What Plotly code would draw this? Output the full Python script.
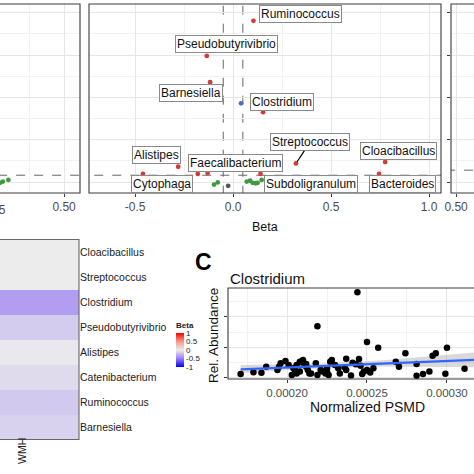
import plotly.graph_objects as go

W = H = 474
def PX(x): return x / W
def PY(y): return 1 - y / H

FONT = "Liberation Sans, Arial, Helvetica, sans-serif"
RED, GREEN, BLUE, GREY = "#d63a36", "#3f9a3f", "#4a6fc4", "#555555"
GRID, MINOR, BORDER = "#e6e6e6", "#f2f2f2", "#3a3a3a"

# ---------------- volcano (middle facet) ----------------
mid_beta  = [0.104, -0.134, -0.117, 0.153, 0.321, -0.280, -0.460, -0.130, -0.180, 0.140, 0.776, 0.745,
             0.041,
             -0.097, -0.078, 0.070, 0.087, 0.100, 0.115, 0.125, 0.146,
             -0.025]
mid_logp  = [38.1, 29.8, 23.6, 16.5, 4.4, 3.6, 1.9, 2.1, 1.9, 1.9, 4.7, 1.9,
             18.6,
             -0.6, -0.1, 0.1, 0.3, -0.2, -0.3, -0.2, 0.5,
             -0.9]
mid_group = ["sig"] * 12 + ["neg"] + ["ns"] * 8 + ["none"]
group_color = {"sig": RED, "neg": BLUE, "ns": GREEN, "none": GREY}

# labels: genus, point beta, point value, label offset (px)
lab_genus = ["Ruminococcus", "Pseudobutyrivibrio", "Barnesiella", "Clostridium", "Streptococcus",
             "Alistipes", "Faecalibacterium", "Cytophaga", "Subdoligranulum", "Cloacibacillus", "Bacteroides"]
lab_beta  = [0.104, -0.134, -0.117, 0.041, 0.321, -0.280, -0.130, -0.025, 0.146, 0.776, 0.745]
lab_val   = [38.1, 29.8, 23.6, 18.6, 4.4, 3.6, 2.1, -0.9, 0.5, 4.7, 1.9]
lab_dx    = [47, 20, -19, 41, 14, -22, 28, -66, 49, 13, 23]
lab_dy    = [-7, -12, 11, -1, -21, -12, -10, -2, 4, -11, 10]
lab_seg   = [False, False, False, False, True, False, False, False, False, False, False]

# left facet (partially visible)
left_beta = [0.271, 0.281, 0.301]
left_logp = [-0.2, 0.1, 0.5]

mid_thresh, left_thresh, right_thresh = 1.6, 1.6, 2.8
beta_cut = [-0.05, 0.05]

# ---------------- heatmap ----------------
heat_genus = ["Cloacibacillus", "Streptococcus", "Clostridium", "Pseudobutyrivibrio",
              "Alistipes", "Catenibacterium", "Ruminococcus", "Barnesiella"]
heat_beta  = [0.0, 0.0, -0.36, -0.15, -0.02, -0.08, -0.16, -0.12]

# ---------------- panel C scatter ----------------
psmd = [0.000171, 0.000179, 0.000184, 0.000187, 0.000194, 0.000195, 0.000196, 0.000199, 0.000201,
        0.000204, 0.000206, 0.000208, 0.000210, 0.000212, 0.000213, 0.000215, 0.000221, 0.000225,
        0.000208, 0.000210, 0.000205, 0.000206, 0.000212, 0.000214, 0.000219, 0.000222, 0.000224,
        0.000225, 0.000227, 0.000228, 0.000230, 0.000232, 0.000226,
        0.000219, 0.000244, 0.000250, 0.000257, 0.000274, 0.000291, 0.000293, 0.000300, 0.000237,
        0.000245, 0.000268, 0.000270, 0.000281, 0.000281, 0.000285, 0.000289, 0.000299, 0.000311,
        0.000254, 0.000240, 0.000237, 0.000248, 0.000250,
        0.000243, 0.000246, 0.000241, 0.000233, 0.000236, 0.000218, 0.000203, 0.000247, 0.000252]
abund = [0.0013, 0.0019, 0.0017, 0.0037, 0.0026, 0.0037, 0.0048, 0.0056, 0.0043,
         0.0032, 0.0043, 0.0021, 0.0050, 0.0046, 0.0026, 0.0015, 0.0026, 0.0021,
         0.0053, 0.0059, 0.0026, 0.0015, 0.0037, 0.0015, 0.0010, 0.0021, 0.0015,
         0.0032, 0.0053, 0.0059, 0.0043, 0.0032, 0.0010,
         0.0170, 0.0281, 0.0118, 0.0099, 0.0081, 0.0073, 0.0081, 0.0099, 0.0063,
         0.0062, 0.0053, 0.0037, 0.0046, 0.0007, 0.0013, 0.0021, 0.0014, 0.0030,
         0.0032, 0.0008, 0.0026, 0.0021, 0.0026,
         0.0045, 0.0040, 0.0050, 0.0015, 0.0035, 0.0048, 0.0010, 0.0013, 0.0018]
fit_x     = [0.000171, 0.000220, 0.000260, 0.000317, 0.000330]
fit_y     = [0.00285, 0.00390, 0.00475, 0.00590, 0.00620]
fit_lower = [0.00160, 0.00320, 0.00380, 0.00360, 0.00350]
fit_upper = [0.00430, 0.00470, 0.00580, 0.00820, 0.00890]

fig = go.Figure()

# volcano traces
for g in ["none", "ns", "neg", "sig"]:
    xs = [b for b, gg in zip(mid_beta, mid_group) if gg == g]
    ys = [v for v, gg in zip(mid_logp, mid_group) if gg == g]
    fig.add_trace(go.Scatter(x=xs, y=ys, mode="markers", xaxis="x2", yaxis="y2",
                             marker=dict(size=4.8, color=group_color[g]), showlegend=False))
fig.add_trace(go.Scatter(x=left_beta, y=left_logp, mode="markers", xaxis="x", yaxis="y",
                         marker=dict(size=4.8, color=GREEN), showlegend=False))
fig.add_trace(go.Scatter(x=[None], y=[None], mode="markers", xaxis="x3", yaxis="y3", showlegend=False))

# heatmap
colorscale = [[0, "#0000ff"], [0.25, "#9b80f3"], [0.5, "#ececec"], [0.75, "#f59a8a"], [1, "#ff0000"]]
fig.add_trace(go.Heatmap(
    x=["WMH"], y=heat_genus[::-1], z=[[v] for v in heat_beta[::-1]],
    xaxis="x4", yaxis="y4", zmin=-1, zmax=1, colorscale=colorscale,
    colorbar=dict(x=PX(176), xanchor="left", y=PY(343), yanchor="middle",
                  len=48, lenmode="pixels", thickness=8, thicknessmode="pixels",
                  xpad=0, ypad=0, outlinewidth=0, ticks="",
                  tickvals=[-1, -0.5, 0, 0.5, 1], ticktext=["-1", "-0.5", "0", "0.5", "1"],
                  tickfont=dict(size=8, family=FONT, color="#222"),
                  title=dict(text="<b>Beta</b>", side="top", font=dict(size=8, family=FONT, color="#222")))))

# panel C
fig.add_trace(go.Scatter(x=fit_x + fit_x[::-1], y=fit_upper + fit_lower[::-1], fill="toself",
                         fillcolor="rgba(160,160,160,0.4)", line=dict(width=0), mode="lines",
                         xaxis="x5", yaxis="y5", showlegend=False, hoverinfo="skip"))
fig.add_trace(go.Scatter(x=psmd, y=abund, mode="markers", xaxis="x5", yaxis="y5",
                         marker=dict(size=6.5, color="black"), showlegend=False))
fig.add_trace(go.Scatter(x=fit_x, y=fit_y, mode="lines", xaxis="x5", yaxis="y5",
                         line=dict(color="#3366ff", width=2.2), showlegend=False))

top_dom = [PY(193), PY(4)]
yrange_top = [-2.6, 42.08]
tickfont = dict(size=12, family=FONT, color="#4d4d4d")

def yax_top(anchor, ticks):
    return dict(domain=top_dom, range=yrange_top, anchor=anchor, showticklabels=False,
                ticks="outside" if ticks else "", ticklen=3, tickcolor=BORDER,
                tickvals=[0, 10, 20, 30, 40], showgrid=True, gridcolor=GRID, gridwidth=1,
                minor=dict(tickvals=[5, 15, 25, 35], showgrid=True, gridcolor=MINOR, gridwidth=0.7, ticks=""),
                zeroline=False, showline=False)

fig.update_layout(
    width=W, height=H, margin=dict(l=0, r=0, t=0, b=0, autoexpand=False),
    paper_bgcolor="white", plot_bgcolor="white", font=dict(family=FONT),
    xaxis=dict(domain=[0, PX(80)], range=[0.271, 0.557], anchor="y", tickvals=[0.5], ticktext=["0.50"],
               ticks="outside", ticklen=3, tickcolor=BORDER, tickfont=tickfont,
               showgrid=True, gridcolor=GRID,
               minor=dict(tickvals=[0.375], showgrid=True, gridcolor=MINOR, ticks=""), zeroline=False),
    yaxis=yax_top("x", False),
    xaxis2=dict(domain=[PX(89), PX(441)], range=[-0.735, 1.061], anchor="y2",
                tickvals=[-0.5, 0, 0.5, 1.0], ticktext=["-0.5", "0.0", "0.5", "1.0"],
                ticks="outside", ticklen=3, tickcolor=BORDER, tickfont=tickfont,
                showgrid=True, gridcolor=GRID,
                minor=dict(tickvals=[-0.25, 0.25, 0.75], showgrid=True, gridcolor=MINOR, ticks=""),
                zeroline=False),
    yaxis2=yax_top("x2", False),
    xaxis3=dict(domain=[PX(451), 1], range=[0.482, 0.564], anchor="y3", tickvals=[0.5], ticktext=["0.50"],
                ticks="outside", ticklen=3, tickcolor=BORDER, tickfont=tickfont,
                showgrid=True, gridcolor=GRID, zeroline=False),
    yaxis3=yax_top("x3", True),
    xaxis4=dict(domain=[0, PX(79)], anchor="y4", showticklabels=False, ticks="", showgrid=False, zeroline=False),
    yaxis4=dict(domain=[PY(439.5), PY(239.5)], anchor="x4", side="right", ticks="", showgrid=False,
                tickfont=dict(size=10.5, family=FONT, color="#222"), zeroline=False),
    xaxis5=dict(domain=[PX(228), 1], range=[0.0001631, 0.0003169], anchor="y5",
                tickvals=[0.0002, 0.00025, 0.0003], ticktext=["0.00020", "0.00025", "0.00030"],
                ticks="outside", ticklen=3, tickcolor=BORDER,
                tickfont=dict(size=11.5, family=FONT, color="#4d4d4d"),
                showgrid=True, gridcolor=GRID,
                minor=dict(tickvals=[0.000175, 0.000225, 0.000275], showgrid=True, gridcolor=MINOR, ticks=""),
                zeroline=False, showline=False),
    yaxis5=dict(domain=[PY(379), PY(288)], range=[-0.00033, 0.0295], anchor="x5",
                tickvals=[0, 0.01, 0.02], showticklabels=False, ticks="outside", ticklen=3, tickcolor=BORDER,
                showgrid=True, gridcolor=GRID,
                minor=dict(tickvals=[0.005, 0.015, 0.025], showgrid=True, gridcolor=MINOR, ticks=""),
                zeroline=False, showline=False),
)

shapes = []
# thresholds
for xr, yr, val, xlo, xhi in [("x", "y", left_thresh, 0.2, 0.6), ("x2", "y2", mid_thresh, -0.8, 1.1),
                              ("x3", "y3", right_thresh, 0.4, 0.6)]:
    shapes.append(dict(type="line", xref=xr, yref=yr, x0=xlo, x1=xhi, y0=val, y1=val,
                       line=dict(color="#666", width=1, dash="dash"), layer="below"))
for b in beta_cut:
    shapes.append(dict(type="line", xref="x2", yref="y2", x0=b, x1=b, y0=-3, y1=43,
                       line=dict(color="#666", width=1, dash="dash"), layer="below"))
# panel borders
for x0, x1, y0, y1 in [(-5, 80, 4, 193), (89, 441, 4, 193), (451, 490, 4, 193),
                       (-5, 79, 239.5, 439.5), (228, 490, 288, 379)]:
    shapes.append(dict(type="rect", xref="paper", yref="paper", x0=PX(x0), x1=PX(x1), y0=PY(y1), y1=PY(y0),
                       line=dict(color=BORDER if y0 < 200 or x0 > 200 else "#666", width=1.1), layer="above"))
fig.update_layout(shapes=shapes)

ann = []
for g, b, v, dx, dy, seg in zip(lab_genus, lab_beta, lab_val, lab_dx, lab_dy, lab_seg):
    ann.append(dict(xref="x2", yref="y2", x=b, y=v, text=g, showarrow=True, ax=dx, ay=dy,
                    arrowhead=0, arrowwidth=1.2, arrowcolor="black" if seg else "rgba(0,0,0,0)",
                    standoff=2, bgcolor="white", bordercolor="#8a8a8a", borderwidth=1, borderpad=1,
                    font=dict(size=12, family=FONT, color="#111")))

def txt(x, y, text, size, color="#111", angle=0, xanchor="center"):
    return dict(xref="paper", yref="paper", x=PX(x), y=PY(y), text=text, showarrow=False,
                textangle=angle, xanchor=xanchor, yanchor="middle",
                font=dict(size=size, family=FONT, color=color))

ann += [
    txt(265, 227, "Beta", 12.5),
    txt(22, 451, "WMH", 10.5, "#222", -90),
    txt(-6, 210, "0.25", 12, "#4d4d4d"),
    txt(203, 262, "<b>C</b>", 23, "black"),
    txt(228, 278, "Clostridium", 15, xanchor="left"),
    txt(213, 336, "Rel. Abundance", 13.5, angle=-90),
    txt(367, 407, "Normalized PSMD", 14),
]
fig.update_layout(annotations=ann)

fig.write_html("out.html", config={"displayModeBar": False},
               post_script="document.body.style.margin='0';document.body.style.overflow='hidden';")
